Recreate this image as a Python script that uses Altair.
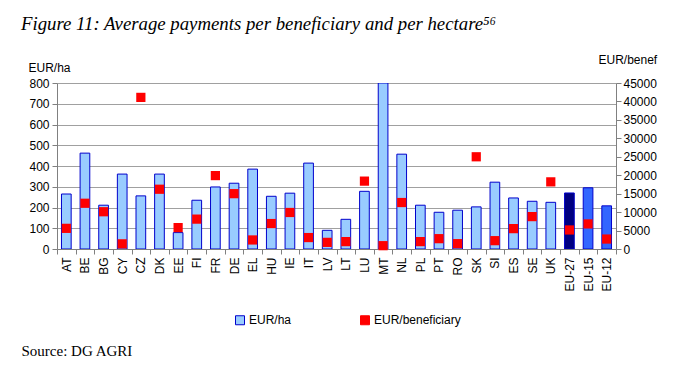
import altair as alt
import pandas as pd

countries = ["AT", "BE", "BG", "CY", "CZ", "DK", "EE", "FI", "FR", "DE",
             "EL", "HU", "IE", "IT", "LV", "LT", "LU", "MT", "NL", "PL",
             "PT", "RO", "SK", "SI", "ES", "SE", "UK", "EU-27", "EU-15", "EU-12"]
eur_ha = [265, 462, 211, 361, 256, 361, 79, 235, 299, 317,
          385, 254, 269, 414, 90, 143, 278, 800, 457, 211,
          177, 187, 203, 322, 246, 230, 225, 270, 295, 208]
eur_benef = [5600, 12400, 10100, 1400, 41100, 16200, 5800, 8100, 19900, 15000,
             2450, 6900, 9900, 3100, 1800, 2000, 18400, 900, 12600, 2000,
             2800, 1450, 25000, 2260, 5520, 8780, 18200, 5160, 6800, 2700]

series = ["EUR/ha", "EUR/beneficiary"]

df_ha = pd.DataFrame({"country": countries, "value": eur_ha, "series": series[0]})
df_bn = pd.DataFrame({"country": countries, "value": eur_benef, "series": series[1]})

FONT = "Liberation Sans"

x_enc = alt.X(
    "country:N", sort=countries,
    scale=alt.Scale(paddingInner=0, paddingOuter=0),
    axis=alt.Axis(
        title="Source: DG AGRI", titleFont="Liberation Serif", titleFontSize=15,
        titleFontWeight="normal", titleColor="black", titleX=-36, titleY=106,
        titleAlign="left", titleBaseline="alphabetic", titleAnchor="start",
        labelAngle=270, labelFont=FONT, labelFontSize=12, labelColor="black",
        labelPadding=3, tickBand="extent", tickSize=5, tickColor="#808080",
        domainColor="#808080", grid=False,
    ),
)

fill_scale = alt.Scale(domain=series, range=["#99CCFF", "#FF0000"])
stroke_scale = alt.Scale(domain=series, range=["#0000CC", "#FF0000"])
legend = alt.Legend(
    title=None, orient="none", legendX=177, legendY=231, direction="horizontal",
    symbolType="square", symbolSize=81, symbolStrokeWidth=1, labelFont=FONT,
    labelFontSize=12, labelColor="black", columnPadding=66, labelOffset=3, padding=0,
)

bar_color = alt.Color(
    "series:N", scale=fill_scale, legend=legend,
    condition=[
        {"test": "datum.country === 'EU-27'", "value": "#000080"},
        {"test": "datum.country === 'EU-15' || datum.country === 'EU-12'", "value": "#3366FF"},
    ],
)

bars = alt.Chart(df_ha).mark_bar(
    width=alt.RelativeBandSize(0.52), strokeWidth=1, opacity=1, clip=True
).encode(
    x=x_enc,
    y=alt.Y("value:Q", scale=alt.Scale(domain=[0, 800], nice=False),
            axis=alt.Axis(values=list(range(0, 801, 100)), title="EUR/ha", titleAngle=0,
                          titleX=-29, titleY=-16, titleAlign="left", titleBaseline="middle",
                          titleFont=FONT, titleFontSize=12, titleFontWeight="normal",
                          titleColor="black", labelFont=FONT, labelFontSize=12,
                          labelColor="black", tickSize=5, tickColor="#808080",
                          domainColor="#808080", gridColor="#A0A0A0", labelPadding=3)),
    color=bar_color,
    stroke=alt.Stroke("series:N", scale=stroke_scale, legend=legend),
)

squares = alt.Chart(df_bn).mark_square(size=85, opacity=1, filled=True, strokeWidth=0).encode(
    x=alt.X("country:N", sort=countries),
    y=alt.Y("value:Q", scale=alt.Scale(domain=[0, 45000], nice=False),
            axis=alt.Axis(values=list(range(0, 45001, 5000)), format="d", orient="right",
                          title="EUR/benef", titleAngle=0, titleX=-18, titleY=-24,
                          titleAlign="left", titleBaseline="middle", titleFont=FONT,
                          titleFontSize=12, titleFontWeight="normal", titleColor="black",
                          labelFont=FONT, labelFontSize=12, labelColor="black",
                          tickSize=5, tickColor="#808080", domainColor="#808080",
                          grid=False, labelPadding=2)),
    color=alt.Color("series:N", scale=fill_scale, legend=legend),
    stroke=alt.Stroke("series:N", scale=stroke_scale, legend=legend),
)

chart = alt.layer(bars, squares).resolve_scale(y="independent").properties(
    width=559, height=166,
    padding={"left": 49, "top": 75, "right": 51, "bottom": 114},
    autosize=alt.AutoSizeParams(type="none"),
    title=alt.TitleParams(
        text="Figure 11: Average payments per beneficiary and per hectare⁵⁶",
        anchor="start", frame="group", dx=-36, dy=-15, font="Liberation Serif",
        fontStyle="italic", fontSize=18.8, fontWeight="normal", color="black",
    ),
).configure_view(strokeWidth=0).configure(background="white")

chart.save("out.html", embed_options={"renderer": "svg", "actions": False})
